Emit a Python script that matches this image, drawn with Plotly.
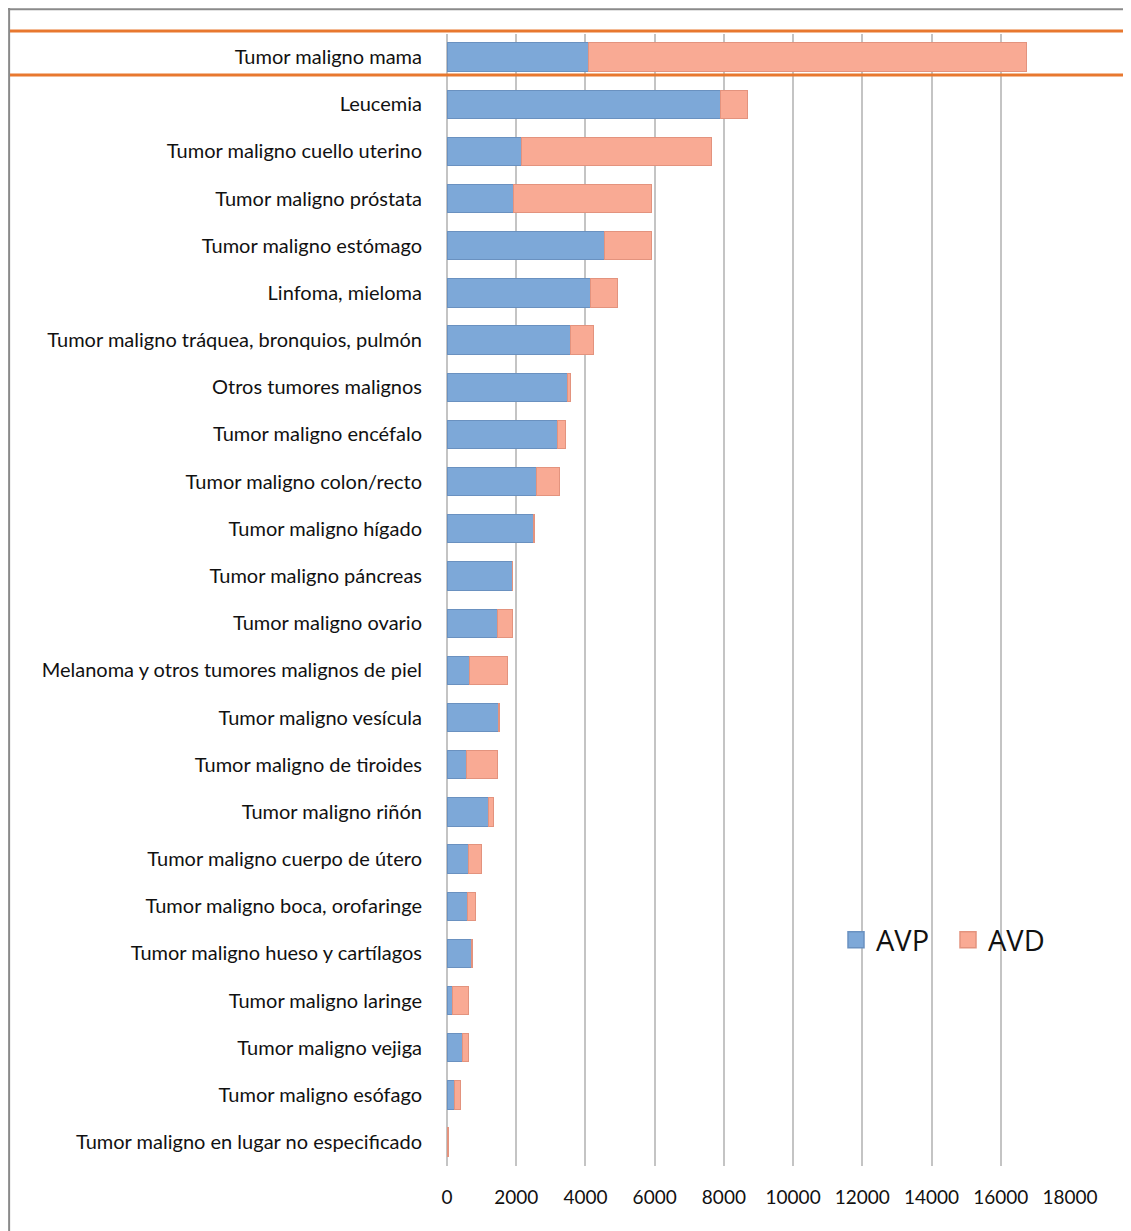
import plotly.graph_objects as go

categories = [
    "Tumor maligno mama",
    "Leucemia",
    "Tumor maligno cuello uterino",
    "Tumor maligno próstata",
    "Tumor maligno estómago",
    "Linfoma, mieloma",
    "Tumor maligno tráquea, bronquios, pulmón",
    "Otros tumores malignos",
    "Tumor maligno encéfalo",
    "Tumor maligno colon/recto",
    "Tumor maligno hígado",
    "Tumor maligno páncreas",
    "Tumor maligno ovario",
    "Melanoma y otros tumores malignos de piel",
    "Tumor maligno vesícula",
    "Tumor maligno de tiroides",
    "Tumor maligno riñón",
    "Tumor maligno cuerpo de útero",
    "Tumor maligno boca, orofaringe",
    "Tumor maligno hueso y cartílagos",
    "Tumor maligno laringe",
    "Tumor maligno vejiga",
    "Tumor maligno esófago",
    "Tumor maligno en lugar no especificado",
]
avp = [4100, 7890, 2140, 1910, 4540, 4160, 3580, 3470, 3180, 2600, 2510, 1880, 1450, 640,
       1500, 550, 1190, 610, 580, 720, 170, 460, 230, 20]
avd = [12650, 780, 5490, 3990, 1360, 780, 640, 110, 230, 640, 10, 20, 430, 1120,
       20, 920, 140, 400, 230, 20, 440, 150, 170, 10]
x_ticks = [0, 2000, 4000, 6000, 8000, 10000, 12000, 14000, 16000, 18000]

# page has an 8px body margin; figure coordinates are reference pixels minus 8
OFF = 8
W, H = 1131 - OFF, 1231 - OFF
FONT = "Lato, sans-serif"
BLUE, BLUE_L = "#7DA8D8", "#6A91C0"
SALMON, SALMON_L = "#F9AA94", "#E3937E"

fig = go.Figure()
fig.add_trace(go.Bar(
    y=categories, x=avp, orientation="h", name="AVP", showlegend=False,
    marker=dict(color=BLUE, line=dict(color=BLUE_L, width=1)), width=0.6,
))
fig.add_trace(go.Bar(
    y=categories, x=avd, orientation="h", name="AVD", showlegend=False,
    marker=dict(color=SALMON, line=dict(color=SALMON_L, width=1)), width=0.6,
))
# legend entries with larger square keys
for nm, c, lc in [("AVP", BLUE, BLUE_L), ("AVD", SALMON, SALMON_L)]:
    fig.add_trace(go.Scatter(
        x=[None], y=[None], mode="markers", name=nm,
        marker=dict(symbol="square", size=19, color=c, line=dict(color=lc, width=1.5)),
    ))

def px(x):
    return (x - OFF) / W

def py(y):
    return 1 - (y - OFF) / H

ytop, ybot = 33.5, 1165.7
fig.update_layout(
    barmode="stack",
    width=W, height=H,
    margin=dict(l=0, r=0, t=0, b=0),
    paper_bgcolor="white", plot_bgcolor="white",
    font=dict(family=FONT, size=20, color="#111111"),
    bargap=0.4,
    xaxis=dict(
        domain=[px(447), px(1070)], range=[0, 18000], tickvals=x_ticks, tickformat="d",
        tickfont=dict(size=19),
        showgrid=True, gridcolor="#C4C4C4", gridwidth=2,
        zeroline=True, zerolinecolor="#C4C4C4", zerolinewidth=2,
        ticks="outside", ticklen=14, tickcolor="rgba(0,0,0,0)",
        showline=False, automargin=False, fixedrange=True,
    ),
    yaxis=dict(
        domain=[py(ybot), py(ytop)],
        categoryorder="array", categoryarray=categories[::-1],
        autorange=False, range=[-0.5, len(categories) - 0.5],
        ticks="outside", ticklen=20, tickcolor="rgba(0,0,0,0)",
        showgrid=False, showline=False, automargin=False,
    ),
    legend=dict(
        orientation="h", x=px(836), y=py(940), xanchor="left", yanchor="middle",
        font=dict(size=29, family="'Open Sans', sans-serif", color="#111111"),
        bgcolor="rgba(255,255,255,0)", traceorder="normal",
        itemwidth=30, entrywidth=67, entrywidthmode="pixels",
    ),
    shapes=[
        dict(type="line", xref="paper", yref="paper", x0=0.001, x1=0.001,
             y0=1, y1=0, line=dict(color="#8A8A8A", width=2)),
        dict(type="line", xref="paper", yref="paper", x0=0, x1=1,
             y0=0.999, y1=0.999, line=dict(color="#8A8A8A", width=2)),
        dict(type="line", xref="paper", yref="paper", x0=px(10), x1=1,
             y0=py(31), y1=py(31), line=dict(color="#E8782F", width=3)),
        dict(type="line", xref="paper", yref="paper", x0=px(10), x1=1,
             y0=py(75), y1=py(75), line=dict(color="#E8782F", width=3)),
    ],
)

fig.write_html("out.html")
